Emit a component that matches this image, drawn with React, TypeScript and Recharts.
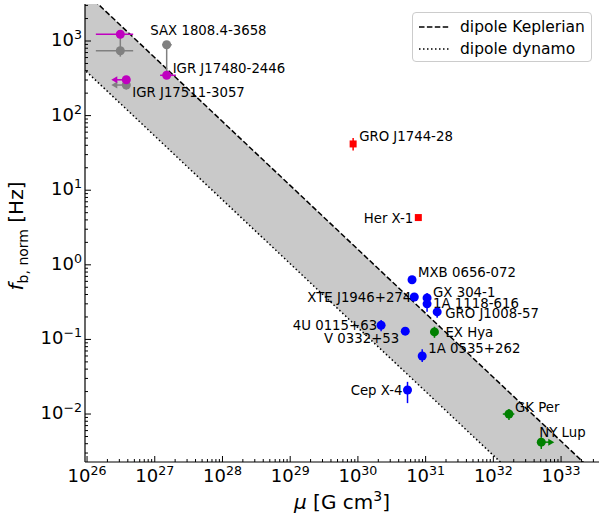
import {
	Area,
	ComposedChart,
	ErrorBar,
	Label,
	Legend,
	Line,
	Scatter,
	XAxis,
	YAxis,
} from "recharts";

const FONT = "'DejaVu Sans', sans-serif";

// axis limits (log10)
const X_LOG_MIN = 25.97;
const X_LOG_MAX = 33.56;
const Y_LOG_MIN = -2.643;
const Y_LOG_MAX = 3.496;

// theoretical lines, evaluated at the two ends of the plotted range
const bandMu = [1e25, 1e34];
const keplerianF = [3.1e4, 6.0e-4];
const dynamoF = [2.75e3, 5.4e-5];

// accreting millisecond pulsars: two estimates per source
const amxpNames = ["SAX 1808.4-3658", "IGR J17480-2446", "IGR J17511-3057"];
const amxpMu = [3.1e26, 1.5e27, 3.8e26];
const amxpMuLow = [1.35e26, 1.2e27, 3.8e26];
const amxpMuHigh = [4.8e26, 2.05e27, 3.8e26];
const amxpFreq = [1230, 347, 302];
const amxpAltFreq = [740, 890, 257];
const amxpAltFreqLow = [617, 350, 224];
const amxpAltFreqHigh = [1230, 890, 302];
const amxpAltMuLow = [1.35e26, 1.29e27, 3.8e26];
const amxpAltMuHigh = [4.8e26, 1.78e27, 3.8e26];
const amxpUpperLimit = [false, false, true];

// pulsars drawn with squares
const sqNames = ["GRO J1744-28", "Her X-1"];
const sqMu = [8.5e29, 7.8e30];
const sqFreq = [41.7, 4.3];
const sqFreqLow = [34, 4.3];
const sqFreqHigh = [50, 4.3];

// Be/X-ray binaries
const bxNames = [
	"MXB 0656-072",
	"XTE J1946+274",
	"GX 304-1",
	"1A 1118-616",
	"GRO J1008-57",
	"4U 0115+63",
	"V 0332+53",
	"1A 0535+262",
	"Cep X-4",
];
const bxMu = [6.3e30, 6.8e30, 1.05e31, 1.05e31, 1.48e31, 2.2e30, 5.0e30, 8.9e30, 5.4e30];
const bxFreq = [0.63, 0.37, 0.36, 0.3, 0.234, 0.155, 0.129, 0.06, 0.021];
const bxFreqLow = [0.63, 0.37, 0.31, 0.235, 0.195, 0.129, 0.129, 0.05, 0.014];
const bxFreqHigh = [0.63, 0.37, 0.42, 0.34, 0.263, 0.182, 0.129, 0.074, 0.027];

// intermediate polars
const ipNames = ["EX Hya", "GK Per", "NY Lup"];
const ipMu = [1.35e31, 1.7e32, 5.1e32];
const ipMuLow = [1.35e31, 1.38e32, 5.1e32];
const ipMuHigh = [1.35e31, 2.04e32, 5.1e32];
const ipFreq = [0.126, 0.01, 0.0042];
const ipFreqLow = [0.105, 0.0083, 0.0034];
const ipFreqHigh = [0.148, 0.0117, 0.0049];
const ipLowerLimit = [false, false, true];

// label placement relative to the marker
const labelPos: Record<string, [number, number, "start" | "end"]> = {
	"SAX 1808.4-3658": [30, 1, "start"],
	"IGR J17480-2446": [6, -2, "start"],
	"IGR J17511-3057": [6, 17, "start"],
	"GRO J1744-28": [6, -3, "start"],
	"Her X-1": [-5, 5, "end"],
	"MXB 0656-072": [6, -3, "start"],
	"XTE J1946+274": [-3, 5, "end"],
	"GX 304-1": [6, -1, "start"],
	"1A 1118-616": [6, 4, "start"],
	"GRO J1008-57": [8, 6, "start"],
	"4U 0115+63": [-4, 5, "end"],
	"V 0332+53": [-6, 12, "end"],
	"1A 0535+262": [6, -3, "start"],
	"Cep X-4": [-5, 5, "end"],
	"EX Hya": [11, 5, "start"],
	"GK Per": [6, -2, "start"],
	"NY Lup": [-2, -5, "start"],
};

type Pt = {
	name: string;
	mu: number;
	f: number;
	muErr: [number, number];
	fErr: [number, number];
	limit: "" | "left" | "right";
};

const build = (
	names: string[],
	mu: number[],
	f: number[],
	muLow: number[] | null,
	muHigh: number[] | null,
	fLow: number[] | null,
	fHigh: number[] | null,
	limit: "" | "left" | "right",
	limits: boolean[] | null,
	showNames = true,
): Pt[] =>
	names.map((n, i) => ({
		name: showNames ? n : "",
		mu: mu[i],
		f: f[i],
		muErr: [muLow ? mu[i] - muLow[i] : 0, muHigh ? muHigh[i] - mu[i] : 0],
		fErr: [fLow ? f[i] - fLow[i] : 0, fHigh ? fHigh[i] - f[i] : 0],
		limit: limits && limits[i] ? limit : "",
	}));

const grayPts = build(amxpNames, amxpMu, amxpAltFreq, amxpAltMuLow, amxpAltMuHigh, amxpAltFreqLow, amxpAltFreqHigh, "left", amxpUpperLimit, false);
const magentaPts = build(amxpNames, amxpMu, amxpFreq, amxpMuLow, amxpMuHigh, null, null, "left", amxpUpperLimit);
const redPts = build(sqNames, sqMu, sqFreq, null, null, sqFreqLow, sqFreqHigh, "", null);
const bluePts = build(bxNames, bxMu, bxFreq, null, null, bxFreqLow, bxFreqHigh, "", null);
const greenPts = build(ipNames, ipMu, ipFreq, ipMuLow, ipMuHigh, ipFreqLow, ipFreqHigh, "right", ipLowerLimit);

const bandData = bandMu.map((m, i) => ({
	mu: m,
	kep: keplerianF[i],
	dyn: dynamoF[i],
	band: [dynamoF[i], keplerianF[i]],
}));

const decadeTicks = (lo: number, hi: number) => {
	const out: number[] = [];
	for (let k = Math.floor(lo); k <= Math.ceil(hi); k++) {
		for (let m = 1; m <= 9; m++) {
			const v = m * Math.pow(10, k);
			const l = Math.log10(v);
			if (l >= lo && l <= hi) out.push(v);
		}
	}
	return out;
};

const xTicks = decadeTicks(X_LOG_MIN, X_LOG_MAX);
const yTicks = decadeTicks(Y_LOG_MIN, Y_LOG_MAX);

const exponent = (v: number) => {
	const l = Math.log10(v);
	const e = Math.round(l);
	return Math.abs(l - e) < 1e-6 ? e : null;
};

const sup = (e: number) => (e < 0 ? `\u2212${-e}` : `${e}`);

function XTick({ x, y, payload }: any) {
	const e = exponent(payload.value);
	return (
		<g>
			<line x1={x} x2={x} y1={y} y2={y - (e !== null ? 6 : 3)} stroke="#000" />
			{e !== null && (
				<text x={x} y={y + 20} textAnchor="middle" fontSize={18} fontFamily={FONT} fill="#000">
					10
					<tspan dy={-7} fontSize={12.6}>
						{sup(e)}
					</tspan>
				</text>
			)}
		</g>
	);
}

function YTick({ x, y, payload }: any) {
	const e = exponent(payload.value);
	return (
		<g>
			<line x1={x} x2={x + (e !== null ? 6 : 3)} y1={y} y2={y} stroke="#000" />
			{e !== null && (
				<text x={x - 3} y={y + 5} textAnchor="end" fontSize={18} fontFamily={FONT} fill="#000">
					10
					<tspan dy={-7} fontSize={12.6}>
						{sup(e)}
					</tspan>
				</text>
			)}
		</g>
	);
}

const makeShape = (color: string, square: boolean) =>
	function PointShape({ cx, cy, payload }: any) {
		const lp = labelPos[payload.name];
		return (
			<g>
				{payload.limit === "left" && (
					<g>
						<line x1={cx} x2={cx - 10} y1={cy} y2={cy} stroke={color} strokeWidth={1.5} />
						<polygon points={`${cx - 15},${cy} ${cx - 9},${cy - 3.5} ${cx - 9},${cy + 3.5}`} fill={color} />
					</g>
				)}
				{payload.limit === "right" && (
					<g>
						<line x1={cx} x2={cx + 8} y1={cy} y2={cy} stroke={color} strokeWidth={1.5} />
						<polygon points={`${cx + 13},${cy} ${cx + 7},${cy - 3.5} ${cx + 7},${cy + 3.5}`} fill={color} />
					</g>
				)}
				{square ? (
					<rect x={cx - 3.5} y={cy - 3.5} width={7} height={7} fill={color} />
				) : (
					<circle cx={cx} cy={cy} r={4.5} fill={color} />
				)}
				{payload.name && lp && (
					<text
						x={cx + lp[0]}
						y={cy + lp[1]}
						textAnchor={lp[2]}
						fontSize={13.3}
						fontFamily={FONT}
						fill="#000"
					>
						{payload.name}
					</text>
				)}
			</g>
		);
	};

const series = [
	{ key: "gray", data: grayPts, color: "#808080", square: false },
	{ key: "magenta", data: magentaPts, color: "#bf00bf", square: false },
	{ key: "red", data: redPts, color: "#ff0000", square: true },
	{ key: "blue", data: bluePts, color: "#0000ff", square: false },
	{ key: "green", data: greenPts, color: "#008000", square: false },
];

function LegendBox() {
	const row = (top: number, dash: string, text: string) => (
		<div style={{ position: "absolute", left: 0, top, height: 20, width: "100%" }}>
			<svg width={40} height={20} style={{ position: "absolute", left: 5, top: 0 }}>
				<line x1={1} x2={31} y1={10} y2={10} stroke="#000" strokeWidth={1.5} strokeDasharray={dash} />
			</svg>
			<span
				style={{
					position: "absolute",
					left: 47,
					top: 0,
					lineHeight: "20px",
					fontSize: 15.5,
					fontFamily: FONT,
					color: "#000",
					whiteSpace: "nowrap",
				}}
			>
				{text}
			</span>
		</div>
	);
	return (
		<div
			style={{
				position: "relative",
				width: 180,
				height: 50,
				boxSizing: "border-box",
				border: "1px solid #cccccc",
				borderRadius: 4,
				background: "rgba(255,255,255,0.8)",
			}}
		>
			{row(4, "5.5 2.4", "dipole Keplerian")}
			{row(26, "1.5 2.5", "dipole dynamo")}
		</div>
	);
}

const xDomain = [Math.pow(10, X_LOG_MIN), Math.pow(10, X_LOG_MAX)];
const yDomain = [Math.pow(10, Y_LOG_MIN), Math.pow(10, Y_LOG_MAX)];

export default function App() {
	return (
		<div style={{ position: "absolute", left: 0, top: 0, background: "#fff" }}>
			<ComposedChart
				width={599}
				height={518}
				data={bandData}
				margin={{ top: 4, right: 0, bottom: 0, left: 0 }}
			>
				<XAxis
					dataKey="mu"
					type="number"
					scale="log"
					domain={xDomain}
					allowDataOverflow
					ticks={xTicks}
					interval={0}
					tickSize={0}
					tickMargin={0}
					tickLine={false}
					tick={<XTick />}
					height={56}
					axisLine={{ stroke: "#000", strokeWidth: 1.2 }}
				>
					<Label
						content={({ viewBox }: any) => (
							<text
								x={viewBox.x + viewBox.width / 2}
								y={509}
								textAnchor="middle"
								fontSize={20}
								fontFamily={FONT}
								fill="#000"
							>
								<tspan fontStyle="italic">μ</tspan> [G cm
								<tspan dy={-8} fontSize={14}>
									3
								</tspan>
								<tspan dy={8}>]</tspan>
							</text>
						)}
					/>
				</XAxis>
				<XAxis
					xAxisId="top"
					orientation="top"
					type="number"
					scale="log"
					domain={xDomain}
					allowDataOverflow
					height={0}
					tick={false}
					tickLine={false}
					axisLine={{ stroke: "#000", strokeWidth: 1.2 }}
				/>
				<YAxis
					dataKey="f"
					type="number"
					scale="log"
					domain={yDomain}
					allowDataOverflow
					ticks={yTicks}
					interval={0}
					tickSize={0}
					tickMargin={0}
					tickLine={false}
					tick={<YTick />}
					width={85}
					axisLine={{ stroke: "#000", strokeWidth: 1.2 }}
				>
					<Label
						content={({ viewBox }: any) => {
							const cx = 23;
							const cy = viewBox.y + viewBox.height / 2 + 3;
							return (
								<text
									x={cx}
									y={cy}
									transform={`rotate(-90 ${cx} ${cy})`}
									textAnchor="middle"
									fontSize={20}
									fontFamily={FONT}
									fill="#000"
								>
									<tspan fontStyle="italic">f</tspan>
									<tspan dy={5} fontSize={14}>
										b, norm
									</tspan>
									<tspan dy={-5}> [Hz]</tspan>
								</text>
							);
						}}
					/>
				</YAxis>
				<Area
					dataKey="band"
					type="linear"
					fill="#c9c9c9"
					fillOpacity={1}
					stroke="none"
					isAnimationActive={false}
					legendType="none"
				/>
				<Line
					dataKey="kep"
					type="linear"
					stroke="#000"
					strokeWidth={1.5}
					strokeDasharray="5.5 2.4"
					dot={false}
					activeDot={false}
					isAnimationActive={false}
					name="dipole Keplerian"
				/>
				<Line
					dataKey="dyn"
					type="linear"
					stroke="#000"
					strokeWidth={1.5}
					strokeDasharray="1.5 2.5"
					dot={false}
					activeDot={false}
					isAnimationActive={false}
					name="dipole dynamo"
				/>
				{series.map((s) => (
					<Scatter
						key={s.key}
						data={s.data}
						fill={s.color}
						shape={makeShape(s.color, s.square)}
						isAnimationActive={false}
						legendType="none"
					>
						<ErrorBar direction="x" dataKey="muErr" width={0} stroke={s.color} strokeWidth={1.5} />
						<ErrorBar direction="y" dataKey="fErr" width={0} stroke={s.color} strokeWidth={1.5} />
					</Scatter>
				))}
				<Legend
					layout="vertical"
					align="center"
					verticalAlign="middle"
					wrapperStyle={{ left: 412, top: 12, width: 180, height: 50 }}
					content={() => <LegendBox />}
				/>
			</ComposedChart>
		</div>
	);
}
